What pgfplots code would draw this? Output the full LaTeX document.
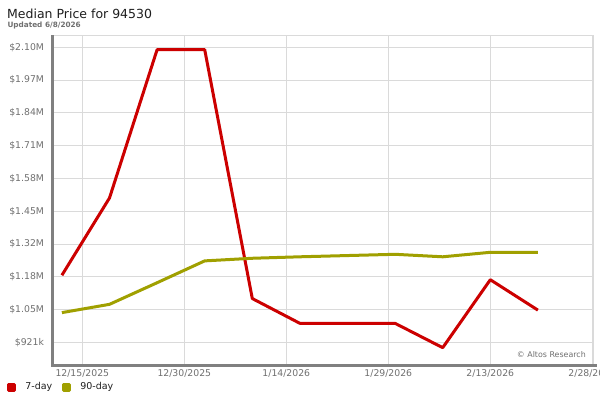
\documentclass[border=0pt]{standalone}
\usepackage{fontspec}
\setmainfont{DejaVu Sans}
\usepackage{pgfplots}
\pgfplotsset{compat=1.18}
\definecolor{sevenday}{RGB}{204,0,0}
\definecolor{ninetyday}{RGB}{160,160,0}
\definecolor{gridc}{RGB}{218,218,218}
\definecolor{axisc}{RGB}{128,128,128}
\definecolor{labelc}{RGB}{112,112,112}
\definecolor{titlec}{RGB}{30,30,30}
\pgfplotstableread{
x y
-3 1.190
4 1.500
11 2.095
18 2.095
25 1.0965
32 0.997
39 0.997
46 0.997
53 0.8994
60 1.172
67 1.050
}\sevendaytable
\pgfplotstableread{
x y
-3 1.040
4 1.0733
11 1.160
18 1.2476
25 1.2581
32 1.264
39 1.269
46 1.274
53 1.264
60 1.282
67 1.282
}\ninetydaytable
\begin{document}
\begin{tikzpicture}
\useasboundingbox[fill=white] (0pt,0pt) rectangle (600pt,400pt);
\node[anchor=base west, inner sep=0pt, text=titlec] at (7pt,381.7pt) {\fontsize{12.5}{14}\selectfont Median Price for 94530};
\node[anchor=base west, inner sep=0pt, text=labelc] at (7.3pt,372.7pt) {\fontsize{7.3}{9}\selectfont\bfseries Updated 6/8/2026};
\begin{axis}[
  at={(52pt,35pt)}, anchor=south west,
  scale only axis, width=541pt, height=330pt,
  xmin=-4.456, xmax=75.1, ymin=0.8299, ymax=2.1538,
  axis line style={draw=none},
  major tick length=0pt,
  xtick={0,15,30,45,60,75},
  xticklabels={12/15/2025,12/30/2025,1/14/2026,1/29/2026,2/13/2026,2/28/2026},
  ytick={0.921,1.0525,1.184,1.3155,1.447,1.5785,1.710,1.8415,1.973,2.1045},
  yticklabels={\$921k,\$1.05M,\$1.18M,\$1.32M,\$1.45M,\$1.58M,\$1.71M,\$1.84M,\$1.97M,\$2.10M},
  grid=major,
  major grid style={draw=gridc, line width=0.9pt},
  ticklabel style={font=\fontsize{9.3}{11}\selectfont, text=labelc},
  yticklabel style={xshift=-4.5pt},
  xticklabel style={yshift=-1.5pt},
  clip=false,
  legend columns=2,
  legend style={at={(-0.0826,-0.0667)}, anchor=west, draw=none, fill=none,
    inner sep=0pt, outer sep=0pt, font=\fontsize{9.5}{11}\selectfont, text=titlec,
    nodes={inner sep=0pt},
    /tikz/every odd column/.append style={column sep=9pt},
    /tikz/every even column/.append style={column sep=10pt}},
  legend image code/.code={\fill (0pt,-3pt) rectangle (6pt,3pt);},
]
\draw[gridc, line width=0.9pt] (rel axis cs:0,1) -- (rel axis cs:1,1) -- (rel axis cs:1,0);
\draw[axisc, line width=3pt] (rel axis cs:0,1) -- (rel axis cs:0,0) -- (rel axis cs:1.008,0);
\node[anchor=base east, inner sep=0pt, text=labelc, font=\fontsize{7.9}{9}\selectfont] at (rel axis cs:0.987,0.024) {© Altos Research};
\addplot[color=sevenday, line width=3pt, line join=round] table[x=x,y=y] {\sevendaytable};
\addlegendentry{7-day}
\addplot[color=ninetyday, line width=3pt, line join=round] table[x=x,y=y] {\ninetydaytable};
\addlegendentry{90-day}
\end{axis}
\end{tikzpicture}
\end{document}
